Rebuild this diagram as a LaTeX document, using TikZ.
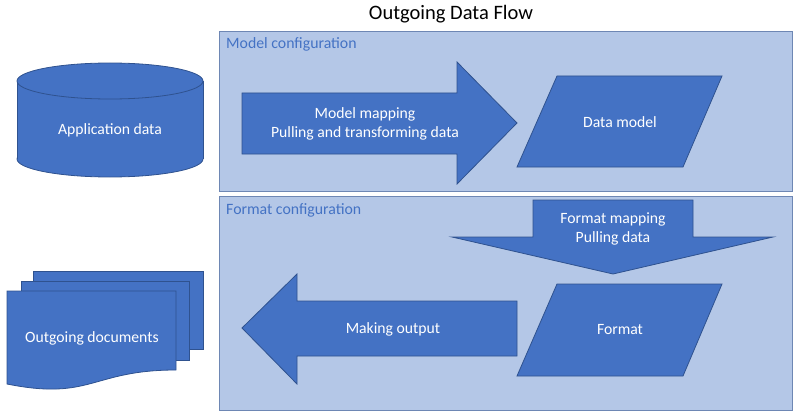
\documentclass[tikz,border=0pt]{standalone}
\usepackage{fontspec}
\setmainfont{Carlito}
\definecolor{shapefill}{RGB}{68,114,196}
\definecolor{shapeline}{RGB}{47,82,143}
\definecolor{panelfill}{RGB}{180,199,231}
\definecolor{panelline}{RGB}{110,135,180}
\definecolor{paneltext}{RGB}{68,114,196}
\tikzset{
  panel/.style={fill=panelfill, draw=panelline, line width=0.8pt},
  blockshape/.style={fill=shapefill, draw=shapeline, line width=0.8pt},
  whitetext/.style={text=white, font=\fontsize{15.7}{18.5}\selectfont, align=center, inner sep=0pt},
  paneltitle/.style={text=paneltext, font=\fontsize{15.8}{18}\selectfont, anchor=west, inner sep=0pt},
}
\begin{document}
\begin{tikzpicture}[x=1pt,y=-1pt]
\useasboundingbox (0,0) rectangle (800,417);
% title
\node[font=\fontsize{20.5}{23}\selectfont, inner sep=0pt] (title) at (451,14) {Outgoing Data Flow};
% panels
\draw[panel] (219,31) rectangle (792,191);
\node[paneltitle] (modelcfg) at (226,44) {Model configuration};
\draw[panel] (219,196) rectangle (792,410);
\node[paneltitle] (formatcfg) at (226,210) {Format configuration};
% cylinder
\draw[blockshape] (110,159) ellipse [x radius=93, y radius=18];
\fill[shapefill] (17,81) rectangle (203,159);
\draw[shapeline, line width=0.8pt] (17,81) -- (17,159) (203,81) -- (203,159);
\draw[blockshape] (110,81) ellipse [x radius=93, y radius=18];
\node[whitetext] (appdata) at (110,130) {Application data};
% right arrow
\draw[blockshape] (242,93) -- (457,93) -- (457,62) -- (517,123) -- (457,184) -- (457,154) -- (242,154) -- cycle;
\node[whitetext] (modelmap) at (365,124) {Model mapping\\Pulling and transforming data};
% data model parallelogram
\draw[blockshape] (557,76) -- (722,76) -- (683,167) -- (517,167) -- cycle;
\node[whitetext] (datamodel) at (620,122) {Data model};
% down arrow
\draw[blockshape] (533,200) -- (693,200) -- (693,237) -- (773,237) -- (613,274) -- (452,237) -- (533,237) -- cycle;
\node[whitetext] (formatmap) at (613,229) {Format mapping\\Pulling data};
% format parallelogram
\draw[blockshape] (557,284) -- (722,284) -- (683,376) -- (517,376) -- cycle;
\node[whitetext] (format) at (620,330) {Format};
% left arrow
\draw[blockshape] (517,301) -- (297,301) -- (297,274) -- (242,328) -- (297,384) -- (297,356) -- (517,356) -- cycle;
\node[whitetext] (makeout) at (393,329) {Making output};
% documents
\draw[blockshape] (33,271) rectangle (203,349);
\draw[blockshape] (21,281) rectangle (189,360);
\draw[blockshape] (7,291) -- (176,291) -- (176,370) .. controls (91.5,370) and (91.5,401) .. (7,384) -- cycle;
\node[whitetext] (outdocs) at (92,338) {Outgoing documents};
\end{tikzpicture}
\end{document}
